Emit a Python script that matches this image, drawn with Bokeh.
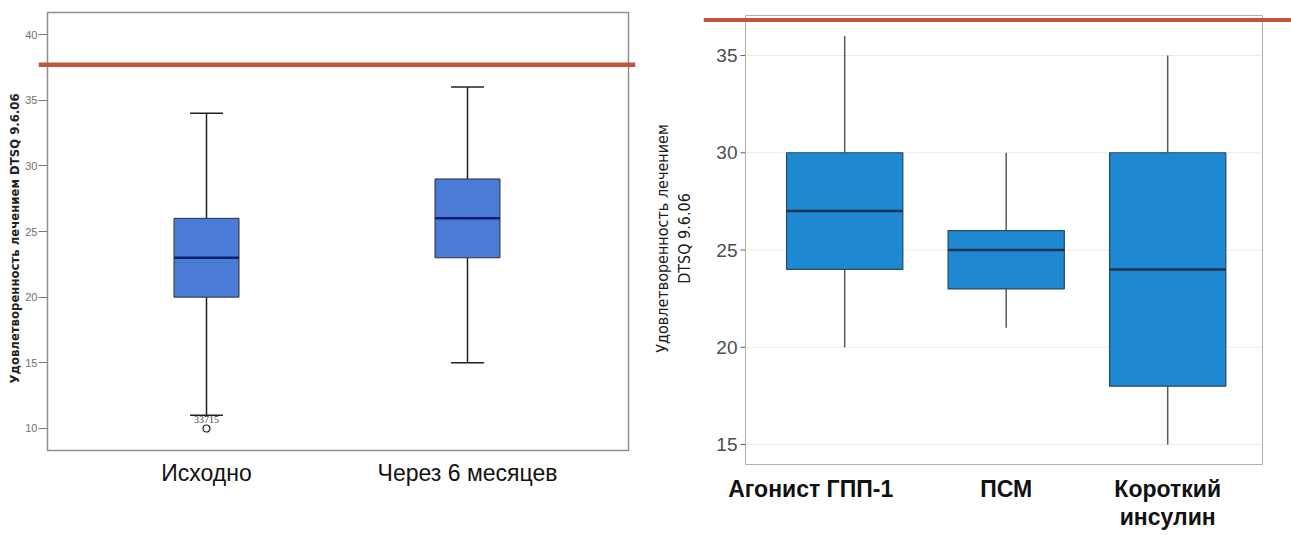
from bokeh.plotting import figure
from bokeh.layouts import row
from bokeh.models import FixedTicker, Range1d, Span
from bokeh.embed import file_html
from bokeh.resources import INLINE

# ---------------- data ----------------
y_label_left = "Удовлетворенность лечением DTSQ 9.6.06"
y_label_right = "Удовлетворенность лечением\nDTSQ 9.6.06"

left_groups = ["Исходно", "Через 6 месяцев"]
left_min = [11, 15]
left_q1 = [20, 23]
left_med = [23, 26]
left_q3 = [26, 29]
left_max = [34, 36]
left_outlier_group = [0]
left_outlier_value = [10]
left_outlier_label = ["33715"]
left_threshold = 37.7
left_yticks = [10, 15, 20, 25, 30, 35, 40]

right_groups = ["Агонист ГПП-1", "ПСМ", "Короткий\nинсулин"]
right_min = [20, 21, 15]
right_q1 = [24, 23, 18]
right_med = [27, 25, 24]
right_q3 = [30, 26, 30]
right_max = [36, 30, 35]
right_threshold = 36.825
right_yticks = [15, 20, 25, 30, 35]

RED = "#c1553b"
TOP, BOTTOM = 10, 69   # shared frame borders (row aligns frames)

# ---------------- left chart ----------------
lpos = [i + 1 for i in range(len(left_groups))]
lw = 0.249
lcap = 0.063
lbox = dict(left=0.3908, right=2.6169, bottom=8.324, top=41.676)

p1 = figure(width=648, height=535, x_range=Range1d(0.3563, 2.6437), y_range=Range1d(7.106, 41.828),
            output_backend="svg", toolbar_location=None, title_location=None,
            min_border_left=38, min_border_right=13, min_border_top=TOP, min_border_bottom=BOTTOM)
p1.outline_line_color = None
p1.xgrid.visible = False
p1.ygrid.visible = False

p1.quad(left=[lbox["left"]], right=[lbox["right"]], bottom=[lbox["bottom"]], top=[lbox["top"]],
        fill_color=None, line_color="#8f8f8f", line_width=1.5)

p1.segment(lpos, left_min, lpos, left_q1, line_color="#222222", line_width=1.5)
p1.segment(lpos, left_q3, lpos, left_max, line_color="#222222", line_width=1.5)
p1.segment([x - lcap for x in lpos], left_max, [x + lcap for x in lpos], left_max, line_color="#222222", line_width=1.5)
p1.segment([x - lcap for x in lpos], left_min, [x + lcap for x in lpos], left_min, line_color="#222222", line_width=1.5)
p1.vbar(x=lpos, width=lw, bottom=left_q1, top=left_q3, fill_color="#4a7bd6", line_color="#2f2f2f", line_width=1)
p1.segment([x - lw / 2 for x in lpos], left_med, [x + lw / 2 for x in lpos], left_med, line_color="#0d1f73", line_width=2.5)

ox = [lpos[g] for g in left_outlier_group]
p1.scatter(ox, left_outlier_value, marker="circle", size=7, fill_color="white", line_color="#222222", line_width=1.2)
p1.text(ox, left_outlier_value, text=left_outlier_label, text_align="center", text_baseline="bottom",
        y_offset=-5, text_font_size="10px", text_color="#444444", text_font="Liberation Sans")

p1.add_layout(Span(location=left_threshold, dimension="width", line_color=RED, line_width=4.5))

p1.xaxis.ticker = FixedTicker(ticks=lpos)
p1.xaxis.major_label_overrides = {x: g for x, g in zip(lpos, left_groups)}
p1.xaxis.major_tick_line_color = None
p1.xaxis.major_tick_out = 0
p1.xaxis.major_tick_in = 0
p1.xaxis.minor_tick_line_color = None
p1.xaxis.axis_line_color = None
p1.xaxis.major_label_text_font = "Liberation Sans"
p1.xaxis.major_label_text_font_size = "23px"
p1.xaxis.major_label_text_color = "#111111"
p1.xaxis.major_label_standoff = -7

p1.yaxis.ticker = FixedTicker(ticks=left_yticks)
p1.yaxis.minor_tick_line_color = None
p1.yaxis.axis_line_color = None
p1.yaxis.major_tick_out = 0
p1.yaxis.major_tick_in = 9
p1.yaxis.major_tick_line_color = "#777777"
p1.yaxis.major_label_text_font = "Liberation Sans"
p1.yaxis.major_label_text_font_size = "11px"
p1.yaxis.major_label_text_color = "#707070"
p1.yaxis.major_label_standoff = 1
p1.yaxis.axis_label = y_label_left
p1.yaxis.axis_label_text_font = "DejaVu Sans Condensed"
p1.yaxis.axis_label_text_font_style = "bold"
p1.yaxis.axis_label_text_font_size = "13px"
p1.yaxis.axis_label_text_color = "#222222"
p1.yaxis.axis_label_standoff = 0

# ---------------- right chart ----------------
rpos = [i + 1 for i in range(len(right_groups))]
rw = 0.72
rbox = dict(left=0.3857, right=3.587, bottom=13.972, top=37.057)
tick_len = 5 / 161.5
label_shift = [-34 / 161.5, 0, 0]

p2 = figure(width=643, height=535, x_range=Range1d(0.1257, 3.7666), y_range=Range1d(13.869, 37.314),
            output_backend="svg", toolbar_location=None, title_location=None,
            min_border_left=55, min_border_right=0, min_border_top=TOP, min_border_bottom=BOTTOM)
p2.outline_line_color = None
p2.xgrid.visible = False
p2.ygrid.visible = False

# grid + frame box
n = len(right_yticks)
p2.segment([rbox["left"]] * n, right_yticks, [rbox["right"]] * n, right_yticks, line_color="#ebebeb", line_width=1)
p2.segment([rbox["left"] - tick_len] * n, right_yticks, [rbox["left"]] * n, right_yticks, line_color="#666666", line_width=1)
p2.quad(left=[rbox["left"]], right=[rbox["right"]], bottom=[rbox["bottom"]], top=[rbox["top"]],
        fill_color=None, line_color="#b0b0b0", line_width=1)

p2.segment(rpos, right_min, rpos, right_q1, line_color="#5a5a5a", line_width=1.5)
p2.segment(rpos, right_q3, rpos, right_max, line_color="#5a5a5a", line_width=1.5)
p2.vbar(x=rpos, width=rw, bottom=right_q1, top=right_q3, fill_color="#1f88d2", line_color="#2a4860", line_width=1.2)
p2.segment([x - rw / 2 for x in rpos], right_med, [x + rw / 2 for x in rpos], right_med, line_color="#1b3448", line_width=2.5)

p2.add_layout(Span(location=right_threshold, dimension="width", line_color=RED, line_width=4))

xt = [x + d for x, d in zip(rpos, label_shift)]
p2.xaxis.ticker = FixedTicker(ticks=xt)
p2.xaxis.major_label_overrides = {x: g for x, g in zip(xt, right_groups)}
p2.xaxis.major_tick_line_color = None
p2.xaxis.major_tick_out = 0
p2.xaxis.major_tick_in = 0
p2.xaxis.minor_tick_line_color = None
p2.xaxis.axis_line_color = None
p2.xaxis.major_label_text_font = "Liberation Sans"
p2.xaxis.major_label_text_font_style = "bold"
p2.xaxis.major_label_text_font_size = "23px"
p2.xaxis.major_label_text_line_height = 1.1
p2.xaxis.major_label_text_color = "#111111"
p2.xaxis.major_label_standoff = 9

p2.yaxis.ticker = FixedTicker(ticks=right_yticks)
p2.yaxis.minor_tick_line_color = None
p2.yaxis.axis_line_color = None
p2.yaxis.major_tick_line_color = None
p2.yaxis.major_tick_out = 0
p2.yaxis.major_tick_in = 0
p2.yaxis.major_label_text_font = "Liberation Sans"
p2.yaxis.major_label_text_font_size = "19px"
p2.yaxis.major_label_text_color = "#4d4d4d"
p2.yaxis.major_label_standoff = -34
p2.yaxis.axis_label = y_label_right
p2.yaxis.axis_label_text_font = "DejaVu Sans Condensed"
p2.yaxis.axis_label_text_font_style = "normal"
p2.yaxis.axis_label_text_font_size = "16px"
p2.yaxis.axis_label_text_color = "#1a1a1a"
p2.yaxis.axis_label_standoff = 19

layout = row(p1, p2)
open("out.html", "w").write(file_html(layout, INLINE))
